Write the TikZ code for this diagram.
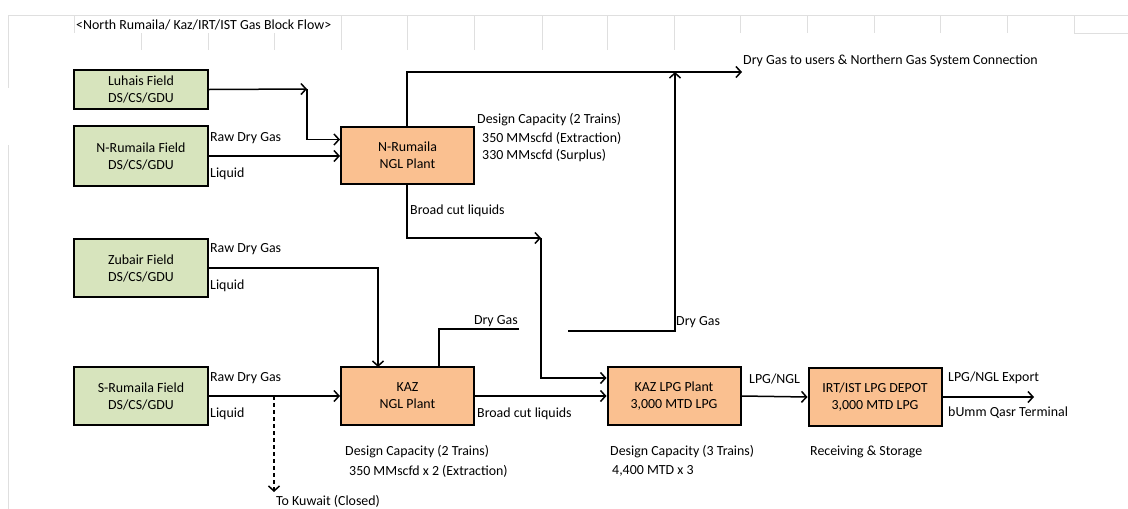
\documentclass[tikz,border=0pt]{standalone}
\usepackage{fontspec}
\setmainfont{Carlito}
\usetikzlibrary{arrows.meta}
\usetikzlibrary{positioning}
\tikzset{
    >={Straight Barb[length=5pt,width=11pt]},
    field/.style={draw=black, line width=2pt, fill=fieldgreen, align=center,
        minimum width=134pt, inner sep=0pt},
    plant/.style={draw=black, line width=2pt, fill=plantorange, align=center,
        minimum width=133pt, minimum height=58pt, inner sep=0pt},
    flow/.style={draw=black, line width=1.5pt},
    closedflow/.style={draw=black, line width=1.5pt, dash pattern=on 4pt off 3pt},
    lbl/.style={anchor=west, inner sep=1pt},
    rlbl/.style={anchor=east, inner sep=1pt},
    grid/.style={draw=gray!25, line width=0.9pt},
}
\definecolor{fieldgreen}{RGB}{215,228,189}
\definecolor{plantorange}{RGB}{250,192,144}

\begin{document}
\begin{tikzpicture}[x=1pt, y=-1pt, font=\fontsize{13.9}{17}\selectfont]
		\useasboundingbox (0,0) rectangle (1128,509);
		% sheet grid
		\draw[grid] (8,15) -- (1128,15);
		\draw[grid] (8,15) -- (8,88);
		\draw[grid] (8,145) -- (8,509);
		\draw[grid] (1074,33) -- (1128,33);
		\foreach \gx in {74,740,807,874,940,1007,1074}
			\draw[grid] (\gx,15) -- (\gx,33);
		\foreach \gx in {341,407,474,542,607,674}
			\draw[grid] (\gx,15) -- (\gx,50);
		\foreach \gx in {141,208,274}
			\draw[grid] (\gx,33) -- (\gx,50);
		\node[lbl] (title) at (75,25) {<North Rumaila/ Kaz/IRT/IST Gas Block Flow>};

		% fields
		\node[field, minimum height=39pt] (luhais) at (141,89.5) {Luhais Field\\DS/CS/GDU};
		\node[field, minimum height=60pt] (nrfield) at (141,156) {N-Rumaila Field\\DS/CS/GDU};
		\node[field, minimum height=58pt] (zubair) at (141,268) {Zubair  Field\\DS/CS/GDU};
		\node[field, minimum height=58pt] (srfield) at (141,396) {S-Rumaila Field\\DS/CS/GDU};

		% plants
		\node[plant, minimum height=57pt] (nrngl) at (407.5,155.5) {N-Rumaila\\NGL Plant};
		\node[plant] (kazngl) at (407.5,396) {KAZ\\NGL Plant};
		\node[plant] (kazlpg) at (674,396) {KAZ LPG Plant\\3,000  MTD LPG};
		\node[plant] (depot) at (875,397) {IRT/IST LPG DEPOT\\3,000  MTD LPG};

		% helper points
		\coordinate (luhaisbend) at (307,89);
		\coordinate (drygastop) at (742,72);
		\coordinate (nrbend) at (407,72);
		\coordinate (bcbend) at (541,238);
		\coordinate (kazdrybend) at (675,331);
		\coordinate (kazdrystart) at (568,331);
		\coordinate (nglgasend) at (519,329);
		\coordinate (kuwait) at (274,492);
		\coordinate (export) at (1034,397);

		% North Rumaila side
		\draw[flow,->] (luhais.east) -- (luhaisbend);
		\draw[flow,->] (luhaisbend) |- ([yshift=16pt]nrngl.west);
		\draw[flow,->] (nrfield.east) -- (nrngl.west |- nrfield.east);
		\node[lbl] (nrraw) at (209,138) {Raw Dry Gas};
		\node[lbl] (nrliq) at (209,174) {Liquid};
		\draw[flow,->] (nrngl.north -| nrbend) -- (nrbend) -- (drygastop);
		\node[lbl] (drygasusers) at (742,61) {Dry Gas to users \& Northern Gas System Connection};
		\node[lbl] (nrcap) at (476,120) {Design Capacity (2 Trains)};
		\node[lbl] (nrext) at (481,138) {350 MMscfd (Extraction)};
		\node[lbl] (nrsur) at (481,156) {330 MMscfd (Surplus)};
		\draw[flow,->] (nrngl.south -| nrbend) |- (bcbend);
		\node[lbl] (nrbcl) at (409,211) {Broad cut liquids};
		\draw[flow,->] (bcbend) |- ([yshift=18pt]kazlpg.west);

		% dry gas from KAZ area up to users
		\draw[flow,->] (kazdrystart) -- (kazdrybend) -- (kazdrybend |- drygastop);
		\node[lbl] (kazdrylbl) at (675,322) {Dry Gas};

		% Zubair
		\draw[flow,->] (zubair.east) -- (378,268) -- (378,367);
		\node[lbl] (zbraw) at (209,249) {Raw Dry Gas};
		\node[lbl] (zbliq) at (209,286) {Liquid};

		% KAZ NGL dry gas
		\draw[flow] (439,367) -- (439,329) -- (nglgasend);
		\node[rlbl] (kazngldry) at (519,321) {Dry Gas};

		% South Rumaila
		\draw[flow,->] (srfield.east) -- (kazngl.west);
		\node[lbl] (srraw) at (209,378) {Raw Dry Gas};
		\node[lbl] (srliq) at (209,414) {Liquid};
		\draw[closedflow,->] (274,396) -- (kuwait);
		\node[lbl, inner sep=0pt] (kuwaitlbl) at (276,501) {To Kuwait (Closed)};

		% KAZ chain
		\draw[flow,->] (kazngl.east) -- (kazlpg.west);
		\node[lbl] (kazbcl) at (476,414) {Broad cut liquids};
		\draw[flow,->] (kazlpg.east) -- (depot.west);
		\node[lbl] (lpgngl) at (748,379) {LPG/NGL};
		\draw[flow,->] (depot.east) -- (export);
		\node[lbl] (exportlbl) at (947,378) {LPG/NGL Export};
		\node[lbl] (umm) at (947,413) {bUmm Qasr Terminal};

		% capacities
		\node[lbl] (kazcap) at (344,452) {Design Capacity (2 Trains)};
		\node[lbl] (kazext) at (348,471) {350 MMscfd x 2 (Extraction)};
		\node[lbl] (lpgcap) at (609,452) {Design Capacity (3 Trains)};
		\node[lbl] (lpgmtd) at (611,471) {4,400 MTD x 3};
		\node[lbl] (recv) at (809,452) {Receiving \& Storage};
\end{tikzpicture}
\end{document}
